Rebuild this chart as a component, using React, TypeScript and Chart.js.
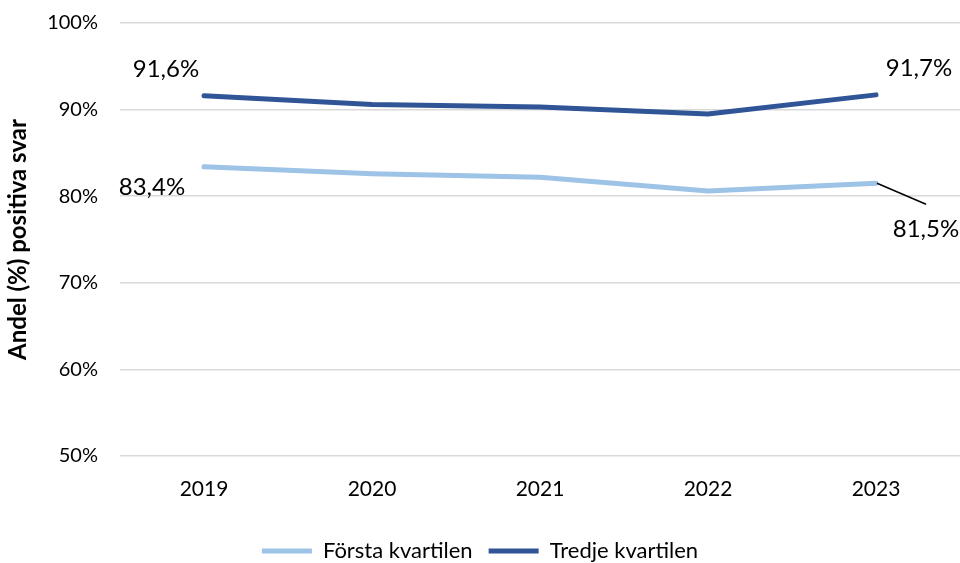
import React, { useEffect, useRef } from "react";
import { Chart, registerables } from "chart.js";

Chart.register(...registerables);

const categories = ["2019", "2020", "2021", "2022", "2023"];
const forstaKvartilen = [83.4, 82.6, 82.2, 80.6, 81.5];
const tredjeKvartilen = [91.6, 90.6, 90.3, 89.5, 91.7];
const seriesNames = ["Första kvartilen", "Tredje kvartilen"];
const yAxisTitle = "Andel (%) positiva svar";

const FONT = "Lato, 'Noto Sans', sans-serif";

// label specs: dataset index, point index, offsets (style)
const labelSpecs = [
  { ds: 1, i: 0, dx: -38, dy: -26, leader: false },
  { ds: 0, i: 0, dx: -52, dy: 21, leader: false },
  { ds: 1, i: 4, dx: 43, dy: -27, leader: false },
  { ds: 0, i: 4, dx: 50, dy: 46, leader: true },
];

const fmt = (v: number) => v.toFixed(1).replace(".", ",") + "%";

const dataLabelPlugin = {
  id: "dataLabelPlugin",
  afterDatasetsDraw(chart: any) {
    const ctx = chart.ctx;
    ctx.save();
    ctx.font = `24px ${FONT}`;
    ctx.fillStyle = "#000";
    ctx.textAlign = "center";
    ctx.textBaseline = "middle";
    labelSpecs.forEach((s) => {
      const meta = chart.getDatasetMeta(s.ds);
      const pt = meta.data[s.i];
      const v = chart.data.datasets[s.ds].data[s.i] as number;
      const tx = pt.x + s.dx;
      const ty = pt.y + s.dy;
      if (s.leader) {
        ctx.strokeStyle = "#000";
        ctx.lineWidth = 1.5;
        ctx.beginPath();
        ctx.moveTo(pt.x + 1, pt.y);
        ctx.lineTo(tx, ty - 25);
        ctx.stroke();
      }
      ctx.fillText(fmt(v), tx, ty);
    });
    ctx.restore();
  },
};

export default function App() {
  const ref = useRef<HTMLCanvasElement | null>(null);
  useEffect(() => {
    document.body.style.margin = "0";
    const chart = new Chart(ref.current as HTMLCanvasElement, {
      type: "line",
      data: {
        labels: categories,
        datasets: [
          {
            label: seriesNames[0],
            data: forstaKvartilen,
            borderColor: "#9DC3E6",
            backgroundColor: "#9DC3E6",
            borderWidth: 5,
            pointRadius: 0,
            pointStyle: "line",
            borderCapStyle: "round",
            tension: 0,
          },
          {
            label: seriesNames[1],
            data: tredjeKvartilen,
            borderColor: "#2F5597",
            backgroundColor: "#2F5597",
            borderWidth: 5,
            pointRadius: 0,
            pointStyle: "line",
            borderCapStyle: "round",
            tension: 0,
          },
        ],
      },
      options: {
        animation: false,
        responsive: false,
        layout: { padding: { top: 23, right: 0, left: 0, bottom: -9 } },
        scales: {
          x: {
            offset: true,
            grid: { display: false },
            border: { display: false },
            ticks: { color: "#000", font: { family: FONT, size: 21 }, padding: 13 },
            afterFit: (s: any) => {
              s.height = 68;
            },
          },
          y: {
            min: 50,
            max: 100,
            ticks: {
              stepSize: 10,
              color: "#000",
              font: { family: FONT, size: 20 },
              padding: 22,
              callback: (v: any) => v + "%",
            },
            grid: { color: "#d9d9d9", lineWidth: 1.5, drawTicks: false },
            border: { display: false },
            title: {
              display: true,
              text: yAxisTitle,
              color: "#000",
              font: { family: FONT, size: 24, weight: "bold" },
              padding: { top: 4, bottom: 4 },
            },
            afterFit: (s: any) => {
              s.width = 120;
              s.paddingTop = 0;
              s.paddingBottom = 0;
            },
          },
        },
        plugins: {
          legend: {
            position: "bottom",
            labels: {
              color: "#000",
              font: { family: FONT, size: 22 },
              usePointStyle: true,
              pointStyle: "line",
              pointStyleWidth: 50,
              boxHeight: 22,
              padding: 16,
            },
          },
          tooltip: { enabled: false },
        },
      },
      plugins: [dataLabelPlugin],
    });
    return () => chart.destroy();
  }, []);
  return (
    <div style={{ position: "absolute", left: 0, top: 0, width: 960, height: 563 }}>
      <canvas ref={ref} width={960} height={563} />
    </div>
  );
}
